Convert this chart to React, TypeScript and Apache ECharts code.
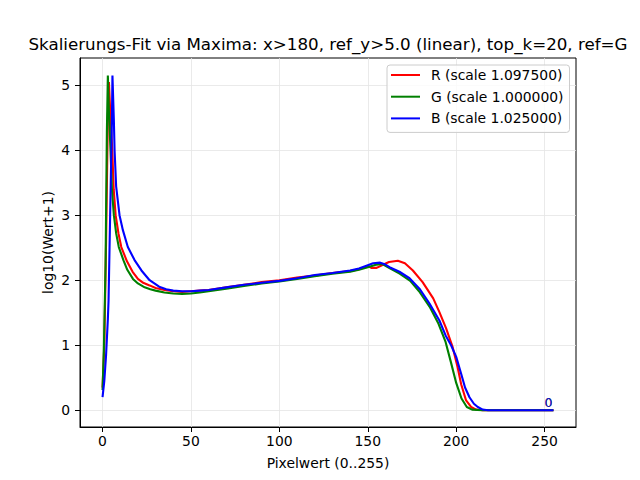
import React, { useEffect, useRef } from 'react';
import * as echarts from 'echarts';

const TITLE = 'Skalierungs-Fit via Maxima: x>180, ref_y>5.0 (linear), top_k=20, ref=G';
const X_LABEL = 'Pixelwert (0..255)';
const Y_LABEL = 'log10(Wert+1)';
const X_TICKS = [0, 50, 100, 150, 200, 250];
const Y_TICKS = [0, 1, 2, 3, 4, 5];
const X_MIN = -12.75;
const X_MAX = 267.75;
const Y_MIN = -0.258;
const Y_MAX = 5.418;

const SERIES_NAMES = ['R (scale 1.097500)', 'G (scale 1.000000)', 'B (scale 1.025000)'];
const SERIES_COLORS = ['#ff0000', '#008000', '#0000ff'];

const R_X = [0, 1, 2, 3, 3.6, 4.5, 5.5, 6.3, 7.4, 9, 10.6, 13.8, 17, 20, 23, 26.6, 30, 35, 40, 45, 50, 55, 60, 70, 80, 90, 100, 110, 120, 130, 140, 145, 150, 152, 155, 158, 162, 167, 171, 175.5, 181, 187, 190.5, 194.3, 198, 200.8, 202.8, 205.6, 208.4, 211.3, 215, 230, 255];
const R_Y = [0.35, 1.0, 2.6, 4.5, 5.05, 4.5, 4.0, 3.4, 3.0, 2.72, 2.51, 2.29, 2.13, 2.02, 1.96, 1.92, 1.88, 1.85, 1.83, 1.82, 1.83, 1.84, 1.85, 1.89, 1.93, 1.97, 2.0, 2.04, 2.07, 2.11, 2.14, 2.17, 2.22, 2.19, 2.19, 2.23, 2.28, 2.3, 2.26, 2.15, 1.97, 1.72, 1.51, 1.26, 0.97, 0.66, 0.4, 0.15, 0.05, 0.01, 0, 0, 0];

const G_X = [0, 0.75, 1.7, 2.45, 3, 3.6, 4.5, 5.3, 6.4, 7.7, 9.2, 11.9, 14, 17.2, 20, 23.8, 27, 30, 35, 40, 45, 50, 55, 60, 70, 80, 90, 100, 110, 120, 130, 140, 145, 150, 155, 158, 162, 168, 174, 179, 185, 190, 194, 197, 200, 203, 206, 209, 215, 230, 255];
const G_Y = [0.31, 0.95, 2.23, 4.28, 5.15, 4.6, 4.0, 3.4, 3.0, 2.72, 2.51, 2.3, 2.16, 2.02, 1.95, 1.89, 1.86, 1.84, 1.81, 1.795, 1.79, 1.795, 1.81, 1.83, 1.87, 1.91, 1.95, 1.98, 2.02, 2.06, 2.1, 2.13, 2.16, 2.2, 2.24, 2.25, 2.19, 2.1, 1.99, 1.83, 1.59, 1.33, 1.05, 0.74, 0.42, 0.18, 0.05, 0.01, 0, 0, 0];

const B_X = [0, 1, 2, 3, 3.4, 4.3, 5.3, 5.6, 6.4, 6.8, 7.7, 9.6, 11.5, 14.3, 18.1, 22, 26.6, 32, 36, 40, 45, 50, 55, 60, 70, 80, 90, 100, 110, 120, 130, 140, 145, 150, 153, 157, 160, 162.3, 167.9, 173.6, 179.2, 184.9, 190.5, 194, 197.1, 200, 202.8, 205, 207.5, 210, 212.2, 215, 218, 230, 255];
const B_Y = [0.2, 0.45, 0.85, 1.4, 1.69, 3.0, 4.46, 5.15, 4.46, 4.0, 3.44, 3.0, 2.77, 2.51, 2.31, 2.15, 2.0, 1.9, 1.86, 1.84, 1.83, 1.83, 1.84, 1.85, 1.89, 1.93, 1.96, 1.99, 2.03, 2.08, 2.11, 2.15, 2.18, 2.23, 2.26, 2.27, 2.24, 2.2, 2.13, 2.03, 1.87, 1.64, 1.38, 1.15, 1.0, 0.82, 0.56, 0.35, 0.2, 0.1, 0.05, 0.01, 0, 0, 0];

const END_LABEL = '0';
const END_X = 255;
const END_Y = 0;

const FONT = 'DejaVu Sans';

function zip(xs: number[], ys: number[]) {
  return xs.map((x, i) => [x, ys[i]]);
}

export default function App() {
  const ref = useRef<HTMLDivElement>(null);
  useEffect(() => {
    if (!ref.current) return;
    const chart = echarts.init(ref.current, null, { renderer: 'svg' });
    const datasets = [zip(R_X, R_Y), zip(G_X, G_Y), zip(B_X, B_Y)];
    const lineSeries = datasets.map((d, i) => ({
      name: SERIES_NAMES[i],
      type: 'line',
      data: d,
      showSymbol: false,
      symbol: 'none',
      color: SERIES_COLORS[i],
      lineStyle: { color: SERIES_COLORS[i], width: 2.1 },
      z: 2 + i,
      silent: true,
    }));
    const labelSeries = SERIES_COLORS.map((c, i) => ({
      type: 'scatter',
      data: [[END_X, END_Y]],
      symbolSize: 2,
      itemStyle: { color: 'rgba(0,0,0,0)' },
      silent: true,
      z: 10 + i,
      label: {
        show: true,
        formatter: END_LABEL,
        position: [0, 0],
        align: 'right',
        verticalAlign: 'bottom',
        color: c,
        fontSize: 12.5,
        fontFamily: FONT,
      },
    }));
    chart.setOption({
      animation: false,
      grid: {
        left: 80,
        top: 58,
        width: 496,
        height: 369,
        show: true,
        borderColor: '#000',
        borderWidth: 1,
        backgroundColor: 'transparent',
        outerBoundsMode: 'none',
      },
      xAxis: {
        type: 'value',
        min: X_MIN,
        max: X_MAX,
        axisLine: { show: true, onZero: false, lineStyle: { color: '#000', width: 1 } },
        axisTick: { show: true, customValues: X_TICKS, length: 5, lineStyle: { color: '#000', width: 1 } },
        axisLabel: { customValues: X_TICKS, margin: 7, color: '#000', fontSize: 13.9, fontFamily: FONT },
        splitLine: { show: true, lineStyle: { color: '#e4e4e4', width: 0.8 } },
      },
      yAxis: {
        type: 'value',
        min: Y_MIN,
        max: Y_MAX,
        axisLine: { show: true, onZero: false, lineStyle: { color: '#000', width: 1 } },
        axisTick: { show: true, customValues: Y_TICKS, length: 5, lineStyle: { color: '#000', width: 1 } },
        axisLabel: { customValues: Y_TICKS, margin: 10, color: '#000', fontSize: 13.9, fontFamily: FONT },
        splitLine: { show: true, lineStyle: { color: '#e4e4e4', width: 0.8 } },
      },
      legend: {
        data: SERIES_NAMES,
        orient: 'vertical',
        left: 387,
        top: 65,
        icon: 'rect',
        itemWidth: 29,
        itemHeight: 2,
        itemGap: 7.7,
        padding: [3, 6, 7, 4],
        backgroundColor: 'rgba(255,255,255,0.8)',
        borderColor: '#cccccc',
        borderWidth: 1,
        borderRadius: 3,
        selectedMode: false,
        textStyle: { fontSize: 13.9, fontFamily: FONT, color: '#000', lineHeight: 14, padding: [0, 0, 0, 6] },
      },
      graphic: [
        {
          type: 'text',
          x: 328,
          y: 44,
          style: { text: TITLE, fontSize: 16.7, fontFamily: FONT, fill: '#000', align: 'center', verticalAlign: 'middle' },
        },
        {
          type: 'text',
          x: 328,
          y: 463,
          style: { text: X_LABEL, fontSize: 13.9, fontFamily: FONT, fill: '#000', align: 'center', verticalAlign: 'middle' },
        },
        {
          type: 'text',
          x: 48,
          y: 242.5,
          rotation: Math.PI / 2,
          style: { text: Y_LABEL, fontSize: 13.9, fontFamily: FONT, fill: '#000', align: 'center', verticalAlign: 'middle' },
        },
      ],
      series: [...lineSeries, ...labelSeries],
    });
    return () => chart.dispose();
  }, []);
  return <div ref={ref} style={{ position: 'absolute', left: 0, top: 0, width: 640, height: 480 }} />;
}
